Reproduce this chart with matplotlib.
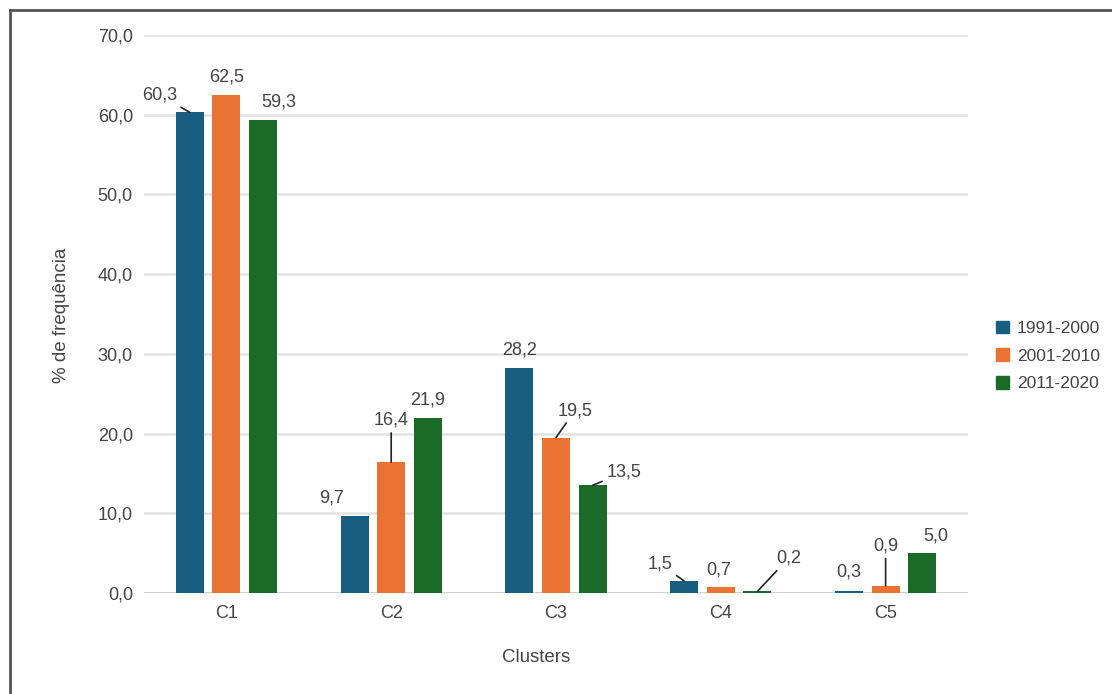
import numpy as np
import matplotlib
matplotlib.use("Agg")
import matplotlib.pyplot as plt
from matplotlib.lines import Line2D
from matplotlib.patches import Patch

plt.rcParams['font.family'] = ['Liberation Sans', 'DejaVu Sans']

# data
clusters = ['C1', 'C2', 'C3', 'C4', 'C5']
periods = ['1991-2000', '2001-2010', '2011-2020']
v1991 = [60.3, 9.7, 28.2, 1.5, 0.3]
v2001 = [62.5, 16.4, 19.5, 0.7, 0.9]
v2011 = [59.3, 21.9, 13.5, 0.2, 5.0]
series = [v1991, v2001, v2011]
colors = ['#185e80', '#ea7232', '#1b6a27']

# label offsets in pixels (dx, dy) and whether a leader line is drawn
lab_off = [
    [(-30, 17), (-23, 18), (0, 18), (-24, 17), (0, 19)],
    [(0, 18), (0, 42), (19, 27), (-2, 17), (0, 40)],
    [(16, 18), (0, 18), (31, 13), (31, 33), (14, 17)],
]
lab_line = [
    [True, False, False, True, False],
    [False, True, True, False, True],
    [False, False, True, True, False],
]

txt = '#444444'
fs = 13
fig = plt.figure(figsize=(11.12, 6.94), dpi=100)
ax = fig.add_axes([144/1112, 1-593/694, (968-144)/1112, (593-35)/694])

x = np.arange(len(clusters))
w = 0.17
step = 0.222
for i, vals in enumerate(series):
    xs = x + (i - 1) * step
    ax.bar(xs, vals, w, color=colors[i], zorder=3)
    for j, v in enumerate(vals):
        dx, dy = lab_off[i][j]
        lab = ('%.1f' % v).replace('.', ',')
        props = None
        if lab_line[i][j]:
            props = dict(arrowstyle='-', color='#222222', lw=1.2,
                         shrinkA=1, shrinkB=0)
        ax.annotate(lab, xy=(xs[j], v), xytext=(dx, dy),
                    textcoords='offset pixels', ha='center', va='center',
                    fontsize=fs, color=txt, arrowprops=props, zorder=4)

ax.set_xlim(-0.5, 4.5)
ax.set_ylim(0, 70)
ax.set_yticks(np.arange(0, 71, 10))
ax.set_yticklabels([('%.1f' % t).replace('.', ',') for t in np.arange(0, 71, 10)])
ax.set_xticks(x)
ax.set_xticklabels(clusters)
ax.tick_params(length=0, labelsize=fs, labelcolor=txt)
ax.tick_params(axis='y', pad=8)
ax.tick_params(axis='x', pad=9)
ax.grid(axis='y', color='#e2e2e2', lw=1.8, zorder=0)
ax.axhline(0, color='#cccccc', lw=2, zorder=2)
for s in ax.spines.values():
    s.set_visible(False)

fig.text(62/1112, 1-315/694, '% de frequência', rotation=90, ha='center',
         va='center', fontsize=13.5, color=txt)
fig.text(536/1112, 1-658/694, 'Clusters', ha='center', va='center',
         fontsize=13.5, color=txt)

handles = [Patch(color=c) for c in colors]
fig.legend(handles, periods, loc='center left',
           bbox_to_anchor=(980/1112, 1-356/694), frameon=False,
           fontsize=12.5, labelcolor=txt, handlelength=0.75, handleheight=0.75,
           handletextpad=0.46, labelspacing=0.7)

# frame around the screenshot
fig.add_artist(Line2D([10/1112, 1], [1-10/694, 1-10/694], color='#555555', lw=2))
fig.add_artist(Line2D([10/1112, 10/1112], [0, 1-10/694], color='#555555', lw=2))

fig.savefig('out.png', dpi=100)
